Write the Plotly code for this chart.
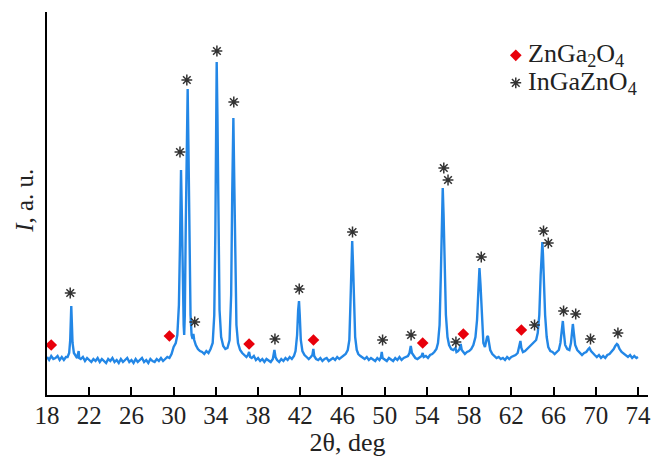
import plotly.graph_objects as go

# ---- XRD pattern (2theta, intensity in arbitrary units) ----
two_theta = [
    18.0, 18.2, 18.4, 18.6, 18.8, 19.0, 19.2, 19.4, 19.6, 19.8,
    19.95, 20.1, 20.2, 20.25, 20.3, 20.35, 20.42, 20.55, 20.7, 20.85, 21.0, 21.05,
    21.2, 21.4, 21.6, 21.8, 22.0, 22.2, 22.4, 22.6, 22.8, 23.0, 23.2, 23.4, 23.6, 23.8,
    24.0, 24.2, 24.4, 24.6, 24.8, 25.0, 25.2, 25.4, 25.6, 25.8, 26.0, 26.2, 26.4, 26.6,
    26.8, 27.0, 27.2, 27.4, 27.6, 27.8, 28.0, 28.2, 28.4, 28.6, 28.8, 29.0, 29.2, 29.4,
    29.6, 29.8, 30.0, 30.1, 30.2, 30.35, 30.5, 30.6, 30.7, 30.78, 30.85, 30.95, 31.0,
    31.06, 31.15, 31.25, 31.33, 31.4, 31.5, 31.6, 31.7, 31.8, 31.87, 31.95, 32.1, 32.3,
    32.5, 32.7, 32.9, 33.1, 33.3, 33.5, 33.7, 33.85, 33.95, 34.03, 34.08, 34.15, 34.25,
    34.35, 34.5, 34.7, 34.9, 35.1, 35.3, 35.45, 35.55, 35.66, 35.75, 35.85, 35.95, 36.1,
    36.3, 36.5, 36.7, 36.9, 37.05, 37.15, 37.25, 37.4, 37.6, 37.8, 38.0, 38.2, 38.4,
    38.6, 38.8, 39.0, 39.2, 39.4, 39.55, 39.65, 39.8, 40.0, 40.2, 40.4, 40.6, 40.8,
    41.0, 41.2, 41.4, 41.55, 41.7, 41.8, 41.88, 41.95, 42.05, 42.2, 42.4, 42.6, 42.8,
    43.0, 43.15, 43.24, 43.32, 43.5, 43.7, 43.9, 44.1, 44.3, 44.5, 44.7, 44.9, 45.1,
    45.3, 45.5, 45.7, 45.9, 46.1, 46.3, 46.5, 46.65, 46.75, 46.85, 46.92, 47.0, 47.1,
    47.2, 47.35, 47.5, 47.7, 47.9, 48.1, 48.3, 48.5, 48.7, 48.9, 49.1, 49.3, 49.5,
    49.65, 49.72, 49.8, 50.0, 50.2, 50.4, 50.6, 50.8, 51.0, 51.2, 51.4, 51.6, 51.8,
    52.0, 52.2, 52.35, 52.47, 52.58, 52.75, 52.9, 53.1, 53.3, 53.5, 53.6, 53.7, 53.9,
    54.1, 54.3, 54.5, 54.7, 54.9, 55.05, 55.2, 55.32, 55.42, 55.5, 55.58, 55.68, 55.8,
    55.95, 56.1, 56.3, 56.5, 56.7, 56.8, 56.95, 57.1, 57.2, 57.3, 57.45, 57.6, 57.8,
    58.0, 58.2, 58.4, 58.6, 58.75, 58.88, 58.98, 59.08, 59.2, 59.35, 59.5, 59.6, 59.7,
    59.78, 59.88, 60.0, 60.2, 60.4, 60.6, 60.8, 61.0, 61.2, 61.4, 61.6, 61.8, 62.0,
    62.2, 62.4, 62.6, 62.75, 62.86, 62.95, 63.1, 63.3, 63.5, 63.7, 63.9, 64.1, 64.2,
    64.35, 64.5, 64.65, 64.78, 64.88, 64.94, 65.0, 65.1, 65.2, 65.35, 65.5, 65.7, 65.9,
    66.1, 66.3, 66.5, 66.65, 66.78, 66.88, 66.96, 67.1, 67.3, 67.5, 67.65, 67.75, 67.83,
    67.92, 68.05, 68.25, 68.5, 68.7, 68.9, 69.1, 69.3, 69.4, 69.55, 69.7, 69.9, 70.1,
    70.3, 70.5, 70.7, 70.9, 71.1, 71.3, 71.5, 71.7, 71.85, 72.0, 72.1, 72.25, 72.45,
    72.65, 72.85, 73.05, 73.25, 73.45, 73.65, 73.85, 74.0,
]
intensity = [
    38, 35, 39, 36, 37, 39, 35, 38, 35, 38,
    38, 42, 55, 75, 89, 74, 52, 42, 39, 37, 44, 37,
    36, 38, 34, 37, 35, 33, 36, 34, 37, 33, 36, 34, 32, 36,
    34, 37, 33, 35, 32, 36, 33, 35, 37, 33, 35, 32, 36, 33,
    35, 37, 33, 35, 32, 36, 34, 33, 36, 34, 37, 34, 36, 38,
    37, 41, 48, 50, 52, 60, 90, 150, 225, 180, 120, 70, 60,
    80, 170, 270, 306, 250, 140, 80, 60, 56, 61, 55, 50, 46,
    44, 43, 41, 44, 42, 46, 52, 80, 160, 290, 333, 280, 150,
    85, 58, 49, 46, 47, 55, 100, 200, 277, 210, 110, 70, 52,
    45, 42, 40, 38, 40, 43, 38, 37, 39, 35, 37, 34, 36,
    33, 36, 34, 33, 36, 45, 38, 35, 33, 36, 34, 37, 35,
    38, 36, 39, 44, 60, 85, 94, 80, 55, 44, 40, 38, 36,
    38, 40, 46, 39, 36, 35, 37, 34, 36, 37, 34, 36, 37,
    35, 38, 36, 38, 39, 41, 45, 55, 90, 140, 154, 130, 85,
    58, 45, 41, 39, 37, 36, 38, 35, 37, 35, 34, 37, 35,
    38, 43, 37, 35, 34, 37, 35, 34, 37, 35, 38, 35, 37,
    38, 39, 42, 49, 42, 39, 37, 36, 38, 39, 42, 38, 39,
    37, 40, 41, 43, 46, 52, 70, 120, 180, 207, 180, 120, 80,
    58, 50, 46, 45, 47, 43, 44, 46, 51, 45, 43, 41, 43,
    44, 46, 50, 58, 75, 105, 127, 110, 75, 52, 48, 55, 58,
    59, 50, 45, 41, 39, 37, 38, 36, 37, 35, 38, 36, 38,
    39, 40, 42, 48, 54, 47, 43, 44, 46, 48, 50, 52, 53,
    55, 62, 80, 120, 150, 153, 140, 110, 80, 58, 48, 44, 43,
    41, 43, 45, 52, 65, 74, 64, 50, 46, 45, 52, 65, 71,
    62, 50, 45, 42, 40, 42, 43, 46, 47, 44, 42, 40, 38,
    40, 37, 39, 37, 40, 41, 43, 46, 49, 51, 50, 46, 43,
    41, 39, 38, 40, 37, 39, 37, 38,
]

# ---- phase markers (peak positions and label heights) ----
zngao_x = [18.4, 29.6, 37.15, 43.25, 53.6, 57.45, 62.95]
zngao_y = [50, 59, 51, 55, 52, 61, 65]
igzo_x = [20.2, 30.6, 31.25, 34.1, 35.7, 32.0, 39.6, 41.9, 46.95, 49.8, 52.5,
          55.6, 56.0, 56.75, 59.15, 64.2, 65.05, 65.5, 66.95, 68.1, 69.5, 72.1]
igzo_y = [102, 243, 315, 344, 293, 73, 56, 106, 163, 55, 60,
          227, 215, 53, 138, 70, 164, 152, 84, 81, 56, 62]

x_ticks = [18, 22, 26, 30, 34, 38, 42, 46, 50, 54, 58, 62, 66, 70, 74]
legend_names = ["ZnGa<sub>2</sub>O<sub>4</sub>", "InGaZnO<sub>4</sub>"]

SERIF = "Liberation Serif, Times New Roman, serif"
TXT = "#222222"
DIAMOND = dict(symbol="diamond", size=9, color="#E8000B")
STAR = dict(symbol="asterisk-open", size=9, color="#333333",
            line=dict(color="#333333", width=1.5))

# legend layout (paper coordinates)
LEG_MX, LEG_TX = 0.780, 0.797
LEG_Y = [0.887, 0.815]

fig = go.Figure()
fig.add_trace(go.Scatter(
    x=two_theta, y=intensity, mode="lines",
    line=dict(color="#2387E6", width=2.4), showlegend=False, hoverinfo="skip"))
fig.add_trace(go.Scatter(x=zngao_x, y=zngao_y, mode="markers", name=legend_names[0],
                         marker=DIAMOND, showlegend=False))
fig.add_trace(go.Scatter(x=igzo_x, y=igzo_y, mode="markers", name=legend_names[1],
                         marker=STAR, showlegend=False))
# legend symbols drawn on an overlay axis spanning the plot area
fig.add_trace(go.Scatter(x=[LEG_MX], y=[LEG_Y[0]], xaxis="x2", yaxis="y2",
                         mode="markers", marker=DIAMOND, showlegend=False, hoverinfo="skip"))
fig.add_trace(go.Scatter(x=[LEG_MX], y=[LEG_Y[1]], xaxis="x2", yaxis="y2",
                         mode="markers", marker=STAR, showlegend=False, hoverinfo="skip"))

annotations = [dict(
    text="<i>I</i>, a. u.", xref="paper", yref="paper", x=0, y=0.507,
    xshift=-22, xanchor="center", yanchor="middle", textangle=-90,
    showarrow=False, font=dict(size=25, family=SERIF, color=TXT))]
for name, yy in zip(legend_names, LEG_Y):
    annotations.append(dict(text=name, xref="paper", yref="paper", x=LEG_TX, y=yy,
                            xanchor="left", yanchor="middle", showarrow=False,
                            font=dict(size=26, family=SERIF, color=TXT)))

# page body has an 8px default margin; figure sized to fit the 664x457 window
fig.update_layout(
    width=656, height=449,
    margin=dict(l=39, r=16, t=4, b=62),
    paper_bgcolor="white", plot_bgcolor="white",
    font=dict(family=SERIF, size=25, color=TXT),
    showlegend=False,
    xaxis=dict(range=[18, 74.95], tickvals=x_ticks, ticktext=[str(t) for t in x_ticks],
               showline=True, linecolor="black", linewidth=2,
               ticks="inside", ticklen=8, tickwidth=2, tickcolor="black",
               ticklabelstandoff=-3,
               showgrid=False, zeroline=False,
               tickfont=dict(size=25, family=SERIF, color=TXT),
               title=dict(text="2θ, deg", font=dict(size=26, family=SERIF, color=TXT),
                          standoff=0)),
    yaxis=dict(range=[0, 383], showline=True, linecolor="black", linewidth=2,
               showticklabels=False, ticks="", showgrid=False, zeroline=False),
    xaxis2=dict(range=[0, 1], overlaying="x", visible=False, fixedrange=True),
    yaxis2=dict(range=[0, 1], overlaying="y", visible=False, fixedrange=True),
    annotations=annotations,
)

fig.write_html("out.html")
